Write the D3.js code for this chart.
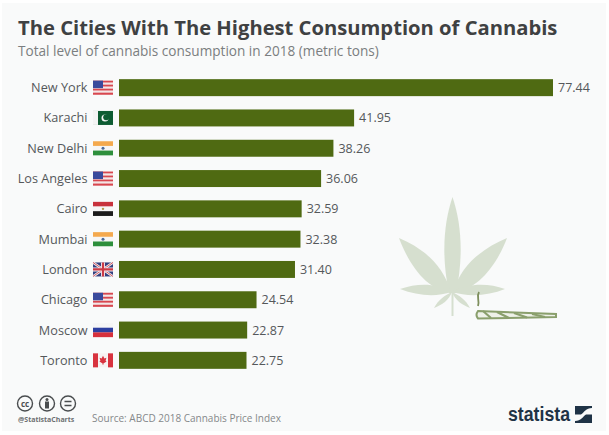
<!DOCTYPE html>
<html>
<head>
<meta charset="utf-8">
<script src="https://cdn.jsdelivr.net/npm/d3@7"></script>
<style>
  html, body { margin: 0; padding: 0; background: #fff; }
  svg { display: block; font-family: "Open Sans", sans-serif; }
</style>
</head>
<body>
<script>
const cities = ["New York", "Karachi", "New Delhi", "Los Angeles", "Cairo", "Mumbai", "London", "Chicago", "Moscow", "Toronto"];
const tons = [77.44, 41.95, 38.26, 36.06, 32.59, 32.38, 31.40, 24.54, 22.87, 22.75];
const flags = ["us", "pk", "in", "us", "eg", "in", "gb", "us", "ru", "ca"];

const width = 609, height = 435;
const svg = d3.select("body").append("svg")
    .attr("width", width)
    .attr("height", height);

svg.append("rect").attr("width", width).attr("height", height).attr("fill", "#fff");
svg.append("rect").attr("x", 2).attr("y", 3).attr("width", 604).attr("height", 428).attr("fill", "#f9fafa");

svg.append("text")
    .attr("x", 18).attr("y", 35)
    .attr("font-size", 20.2).attr("font-weight", 700).attr("fill", "#3f4142")
    .text("The Cities With The Highest Consumption of Cannabis");
svg.append("text")
    .attr("x", 18).attr("y", 55.5)
    .attr("font-size", 13.6).attr("fill", "#7b7e80")
    .text("Total level of cannabis consumption in 2018 (metric tons)");

const x = d3.scaleLinear().domain([0, 77.44]).range([119, 553]);
const y = d3.scaleBand().domain(cities).range([72.5, 375.5]).paddingInner(0.44).paddingOuter(0.22);

const barColor = "#4f6a12";

// cannabis leaf, behind the bars
const leaf = svg.append("g").attr("fill", "#d6dfcf");
leaf.append("path").attr("d", "M452.5,197 C444,222 441,255 449,293 L456,293 C464,255 461,222 452.5,197 Z");
leaf.append("path").attr("d", "M399,238 C420,247 442,262 451,292 C428,291 410,267 399,238 Z");
leaf.append("path").attr("d", "M507,238 C486,247 462,262 453,292 C476,291 496,267 507,238 Z");
leaf.append("path").attr("d", "M400,289 C418,283 436,283 452,292 C436,297 418,296 400,289 Z");
leaf.append("path").attr("d", "M505,289 C488,283 468,283 452,292 C468,297 488,296 505,289 Z");
leaf.append("path").attr("d", "M434,308 C438,300 445,295 452,292 C449,300 442,305 434,308 Z");
leaf.append("path").attr("d", "M470,308 C466,300 459,295 452,292 C455,300 462,305 470,308 Z");
leaf.append("rect").attr("x", 451.5).attr("y", 292).attr("width", 2).attr("height", 24);

// joint
const joint = svg.append("g").attr("fill", "none").attr("stroke", "#8a9f6c");
joint.append("path").attr("d", "M478,311 L556,314 L556,317 L478,318.5 Q475,315 478,311 Z").attr("stroke-width", 2).attr("fill", "#eef1e8");
joint.append("path").attr("d", "M483,311 L491,318 M497,312 L509,318 M514,313 L527,317.5 M532,314 L545,317").attr("stroke-width", 2.2);
joint.append("path").attr("d", "M479,292 C476,297 480,300 478,306").attr("stroke", "#7d8e5c").attr("stroke-width", 1.8);

// bars
svg.selectAll(".bar")
    .data(cities)
    .join("rect")
    .attr("class", "bar")
    .attr("x", x(0))
    .attr("y", d => y(d))
    .attr("width", (d, i) => x(tons[i]) - x(0))
    .attr("height", y.bandwidth())
    .attr("fill", barColor);

svg.selectAll(".value")
    .data(cities)
    .join("text")
    .attr("class", "value")
    .attr("x", (d, i) => x(tons[i]) + 5)
    .attr("y", d => y(d) + y.bandwidth() / 2 + 4.5)
    .attr("font-size", 12.5)
    .attr("fill", "#55585a")
    .text((d, i) => tons[i].toFixed(2));

svg.selectAll(".city")
    .data(cities)
    .join("text")
    .attr("class", "city")
    .attr("x", 87.5)
    .attr("y", d => y(d) + y.bandwidth() / 2 + 4.5)
    .attr("text-anchor", "end")
    .attr("font-size", 12.7)
    .attr("fill", "#55585a")
    .text(d => d);

// flags, 20 x 14
const flagH = 14;
function stripes(g, colors) {
    const h = flagH / colors.length;
    colors.forEach((c, i) => g.append("rect").attr("y", i * h).attr("width", 20).attr("height", h + 0.1).attr("fill", c));
}
const drawFlag = {
    us(g) {
        const cols = d3.range(7).map(i => i % 2 ? "#f3e6e6" : "#d8474f");
        stripes(g, cols);
        g.append("rect").attr("width", 10).attr("height", 7.5).attr("fill", "#3a4a9c");
    },
    pk(g) {
        g.append("rect").attr("width", 20).attr("height", flagH).attr("fill", "#0d5c32");
        g.append("rect").attr("width", 5).attr("height", flagH).attr("fill", "#f4f4f4");
        g.append("circle").attr("cx", 12).attr("cy", 7).attr("r", 3.5).attr("fill", "#f4f4f4");
        g.append("circle").attr("cx", 13.2).attr("cy", 6.2).attr("r", 3).attr("fill", "#0d5c32");
    },
    in(g) {
        stripes(g, ["#f4a94e", "#f6f6f6", "#2e8f3c"]);
        g.append("circle").attr("cx", 10).attr("cy", 7).attr("r", 1.5).attr("fill", "#4a6a9a");
    },
    eg(g) {
        stripes(g, ["#c8323c", "#f6f6f6", "#1c1c1c"]);
        g.append("circle").attr("cx", 10).attr("cy", 7).attr("r", 1.2).attr("fill", "#b89a50");
    },
    gb(g) {
        g.append("rect").attr("width", 20).attr("height", flagH).attr("fill", "#34407f");
        g.append("path").attr("d", "M0,0 L20,14 M20,0 L0,14").attr("stroke", "#f3eef0").attr("stroke-width", 2.6);
        g.append("path").attr("d", "M0,0 L20,14 M20,0 L0,14").attr("stroke", "#cc4a55").attr("stroke-width", 0.9);
        g.append("path").attr("d", "M10,0 V14 M0,7 H20").attr("stroke", "#f3eef0").attr("stroke-width", 4);
        g.append("path").attr("d", "M10,0 V14 M0,7 H20").attr("stroke", "#cc3a45").attr("stroke-width", 2.2);
    },
    ru(g) { stripes(g, ["#f6f6f6", "#2d3fa0", "#d6303c"]); },
    ca(g) {
        g.append("rect").attr("width", 20).attr("height", flagH).attr("fill", "#f6f2f2");
        g.append("rect").attr("width", 5).attr("height", flagH).attr("fill", "#d8333f");
        g.append("rect").attr("x", 15).attr("width", 5).attr("height", flagH).attr("fill", "#d8333f");
        g.append("path").attr("d", "M10,2.5 L11.4,5.1 L13.4,4.5 L12.6,7.5 L13.6,8.1 L10.4,10.1 L10.4,11.5 L9.6,11.5 L9.6,10.1 L6.4,8.1 L7.4,7.5 L6.6,4.5 L8.6,5.1 Z").attr("fill", "#d8333f");
    }
};
cities.forEach((c, i) => {
    const g = svg.append("g").attr("transform", `translate(93,${y(c) + y.bandwidth() / 2 - flagH / 2})`);
    drawFlag[flags[i]](g);
});

// footer
const cc = svg.append("g").attr("fill", "none").attr("stroke", "#4a4d4f").attr("stroke-width", 1.4);
[25, 47, 68].forEach(cx => cc.append("circle").attr("cx", cx).attr("cy", 403.5).attr("r", 7.5));
svg.append("text").attr("x", 25).attr("y", 406.5).attr("text-anchor", "middle")
    .attr("font-size", 8).attr("font-weight", 700).attr("fill", "#4a4d4f").text("cc");
svg.append("circle").attr("cx", 47).attr("cy", 399.5).attr("r", 1.5).attr("fill", "#4a4d4f");
svg.append("rect").attr("x", 45).attr("y", 401.5).attr("width", 4).attr("height", 7).attr("fill", "#4a4d4f");
cc.append("path").attr("d", "M64.5,401.5 H71.5 M64.5,405.5 H71.5").attr("stroke-width", 1.6);

svg.append("text")
    .attr("x", 18).attr("y", 422)
    .attr("font-size", 7).attr("font-weight", 700).attr("fill", "#6d7072")
    .text("@StatistaCharts");
svg.append("text")
    .attr("x", 92).attr("y", 422)
    .attr("font-size", 10).attr("fill", "#85888a")
    .text("Source: ABCD 2018 Cannabis Price Index");

svg.append("text")
    .attr("x", 508).attr("y", 421)
    .attr("font-family", "'Liberation Sans Narrow', 'Liberation Sans', sans-serif")
    .attr("font-size", 20).attr("font-weight", 700).attr("fill", "#1f3346")
    .attr("textLength", 62).attr("lengthAdjust", "spacingAndGlyphs")
    .text("statista");
svg.append("path").attr("d", "M575,406 H592 L592,408 C586,408 584,412.5 581,414.5 H592 V423 H575 V421 C581,421 583,416.5 586,414.5 H575 Z").attr("fill", "#1f3346");
</script>
</body>
</html>
